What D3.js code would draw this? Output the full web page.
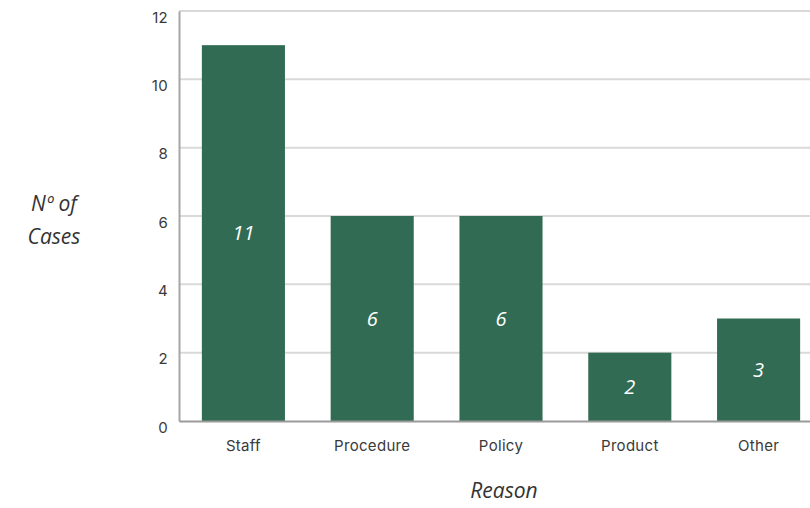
<!DOCTYPE html>
<html>
<head>
<meta charset="utf-8">
<script src="https://cdn.jsdelivr.net/npm/d3@7"></script>
<style>
  html, body { margin: 0; padding: 0; background: #ffffff; }
  svg { display: block; }
</style>
</head>
<body>
<svg id="chart" width="810" height="508"></svg>
<script>
// Complaint cases grouped by reason
const reasons = ["Staff", "Procedure", "Policy", "Product", "Other"];
const cases = [11, 6, 6, 2, 3];
const yTicks = [0, 2, 4, 6, 8, 10, 12];
const yTitle = ["Nº of", "Cases"];
const xTitle = "Reason";

const svg = d3.select("#chart");
const barColor = "#316b53";
const tickFont = "Inter, 'DejaVu Sans', sans-serif";
const titleFont = "'Open Sans', 'Noto Sans', sans-serif";

const x = d3.scaleBand()
  .domain(reasons)
  .range([179, 823])
  .paddingInner(0.355)
  .paddingOuter(0.1775);

const y = d3.scaleLinear()
  .domain([0, 12])
  .range([421, 11]);

// horizontal gridlines
svg.append("g")
  .selectAll("line")
  .data(yTicks.filter(d => d > 0))
  .join("line")
  .attr("x1", 179)
  .attr("x2", 810)
  .attr("y1", d => y(d))
  .attr("y2", d => y(d))
  .attr("stroke", "#d9d9d9")
  .attr("stroke-width", 2);

// bars
svg.append("g")
  .selectAll("rect")
  .data(reasons)
  .join("rect")
  .attr("x", d => x(d))
  .attr("width", x.bandwidth())
  .attr("y", (d, i) => y(cases[i]))
  .attr("height", (d, i) => y(0) - y(cases[i]))
  .attr("fill", barColor);

// value labels inside bars
svg.append("g")
  .selectAll("text")
  .data(reasons)
  .join("text")
  .attr("x", d => x(d) + x.bandwidth() / 2)
  .attr("y", (d, i) => (y(cases[i]) + y(0)) / 2)
  .attr("dy", "0.35em")
  .attr("text-anchor", "middle")
  .attr("fill", "#ffffff")
  .attr("font-family", titleFont)
  .attr("font-style", "italic")
  .attr("font-size", 20)
  .text((d, i) => cases[i]);

// y axis
const yAxis = svg.append("g")
  .attr("transform", "translate(179,0)")
  .call(d3.axisLeft(y).tickValues(yTicks).tickSize(0).tickPadding(11));
yAxis.select(".domain").attr("stroke", "#a6a6a6").attr("stroke-width", 2);
yAxis.selectAll(".tick text")
  .attr("dy", "0.75em")
  .attr("fill", "#3a3a3a")
  .attr("font-family", tickFont)
  .attr("font-size", 15)
  .attr("font-weight", 400)
  .attr("letter-spacing", 0.3);

// x axis
const xAxis = svg.append("g")
  .attr("transform", "translate(0,421)")
  .call(d3.axisBottom(x).tickSize(0).tickPadding(19));
xAxis.select(".domain").attr("stroke", "#9a9a9a").attr("stroke-width", 2);
xAxis.selectAll(".tick text")
  .attr("fill", "#3a3a3a")
  .attr("font-family", tickFont)
  .attr("font-size", 15)
  .attr("font-weight", 400)
  .attr("letter-spacing", 0.3);

// axis titles
svg.append("text")
  .attr("x", 54)
  .attr("y", 204)
  .attr("text-anchor", "middle")
  .attr("fill", "#333333")
  .attr("font-family", titleFont)
  .attr("font-style", "italic")
  .attr("font-size", 21)
  .selectAll("tspan")
  .data(yTitle)
  .join("tspan")
  .attr("x", 54)
  .attr("dy", (d, i) => i === 0 ? "0.35em" : 33)
  .text(d => d);

svg.append("text")
  .attr("x", 504)
  .attr("y", 491)
  .attr("dy", "0.35em")
  .attr("text-anchor", "middle")
  .attr("fill", "#333333")
  .attr("font-family", titleFont)
  .attr("font-style", "italic")
  .attr("font-size", 21)
  .text(xTitle);
</script>
</body>
</html>
